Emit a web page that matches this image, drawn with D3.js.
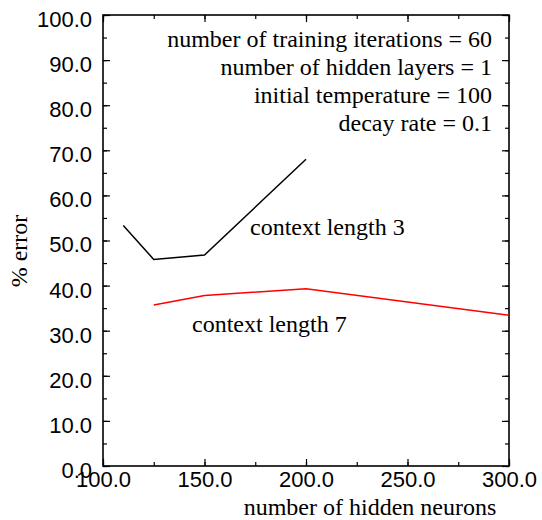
<!DOCTYPE html>
<html>
<head>
<meta charset="utf-8">
<script src="https://cdn.jsdelivr.net/npm/d3@7"></script>
<style>
  body { margin: 0; background: #fff; }
  .tick text { font-family: "Liberation Sans", Arial, sans-serif; }
  .serif { font-family: "Liberation Serif", "Times New Roman", serif; }
</style>
</head>
<body>
<div id="chart"></div>
<script>
const MARGIN = { TOP: 15, RIGHT: 33, BOTTOM: 54, LEFT: 103 };
const WIDTH = 542;
const HEIGHT = 520;

// context length 3 (black) and 7 (red)
var neurons3 = [110, 125, 150, 200];
var error3 = [53.3, 45.8, 46.8, 68.0];
var neurons7 = [125, 150, 200, 300];
var error7 = [35.7, 37.8, 39.3, 33.4];

var xTicks = [100, 150, 200, 250, 300];
var yTicks = [0, 10, 20, 30, 40, 50, 60, 70, 80, 90, 100];
var notes = ["number of training iterations = 60", "number of hidden layers = 1",
             "initial temperature = 100", "decay rate = 0.1"];

var svg = d3.select("div#chart").append("svg")
    .attr("width", WIDTH)
    .attr("height", HEIGHT);

var x = d3.scaleLinear([100, 300], [MARGIN.LEFT, WIDTH - MARGIN.RIGHT]);
var y = d3.scaleLinear([0, 100], [HEIGHT - MARGIN.BOTTOM, MARGIN.TOP]);

var xMinor = d3.range(100, 301, 25);
var yMinor = d3.range(0, 101, 5);

function axisStyle(g) {
    g.select(".domain").remove();
    g.selectAll("line").attr("stroke", "#000").attr("stroke-width", 1.2);
}

// inside ticks on all four sides: minor then major
[[xMinor, yMinor, 4], [xTicks, yTicks, 7]].forEach(([xt, yt, len]) => {
    svg.append("g").attr("transform", `translate(0,${y(0)})`)
        .call(d3.axisTop(x).tickValues(xt).tickSize(len).tickFormat(""))
        .call(axisStyle);
    svg.append("g").attr("transform", `translate(0,${y(100)})`)
        .call(d3.axisBottom(x).tickValues(xt).tickSize(len).tickFormat(""))
        .call(axisStyle);
    svg.append("g").attr("transform", `translate(${x(100)},0)`)
        .call(d3.axisRight(y).tickValues(yt).tickSize(len).tickFormat(""))
        .call(axisStyle);
    svg.append("g").attr("transform", `translate(${x(300)},0)`)
        .call(d3.axisLeft(y).tickValues(yt).tickSize(len).tickFormat(""))
        .call(axisStyle);
});

// tick labels
svg.append("g").attr("transform", `translate(0,${y(0)})`)
    .call(d3.axisBottom(x).tickValues(xTicks).tickSize(0).tickPadding(5).tickFormat(d3.format(".1f")))
    .call(g => g.select(".domain").remove())
    .selectAll("text").attr("font-size", 22).attr("fill", "#000");
svg.append("g").attr("transform", `translate(${x(100)},0)`)
    .call(d3.axisLeft(y).tickValues(yTicks).tickSize(0).tickPadding(11).tickFormat(d3.format(".1f")))
    .call(g => g.select(".domain").remove())
    .selectAll("text").attr("font-size", 22).attr("fill", "#000").attr("dy", "0.52em");

// frame
svg.append("rect")
    .attr("x", x(100)).attr("y", y(100))
    .attr("width", x(300) - x(100)).attr("height", y(0) - y(100))
    .attr("fill", "none").attr("stroke", "#000").attr("stroke-width", 1.6);

const lineFunc = d3.line()
    .x(d => x(d[0]))
    .y(d => y(d[1]));

svg.append("path")
    .attr("d", lineFunc(d3.zip(neurons3, error3)))
    .attr("fill", "none").attr("stroke", "#000").attr("stroke-width", 1.5);
svg.append("path")
    .attr("d", lineFunc(d3.zip(neurons7, error7)))
    .attr("fill", "none").attr("stroke", "#f00").attr("stroke-width", 1.5);

svg.append("text").attr("class", "serif")
    .attr("x", 250).attr("y", 235).attr("font-size", 24)
    .text("context length 3");
svg.append("text").attr("class", "serif")
    .attr("x", 192).attr("y", 332).attr("font-size", 24)
    .text("context length 7");

svg.selectAll("text.note").data(notes)
    .join("text")
    .attr("class", "note serif")
    .attr("x", 492)
    .attr("y", (d, i) => 47 + i * 28)
    .attr("text-anchor", "end")
    .attr("font-size", 24)
    .text(d => d);

svg.append("text").attr("class", "serif")
    .attr("x", 370).attr("y", 515).attr("text-anchor", "middle").attr("font-size", 24)
    .text("number of hidden neurons");
svg.append("text").attr("class", "serif")
    .attr("transform", "translate(27,251) rotate(-90)")
    .attr("text-anchor", "middle").attr("font-size", 24)
    .text("% error");
</script>
</body>
</html>
